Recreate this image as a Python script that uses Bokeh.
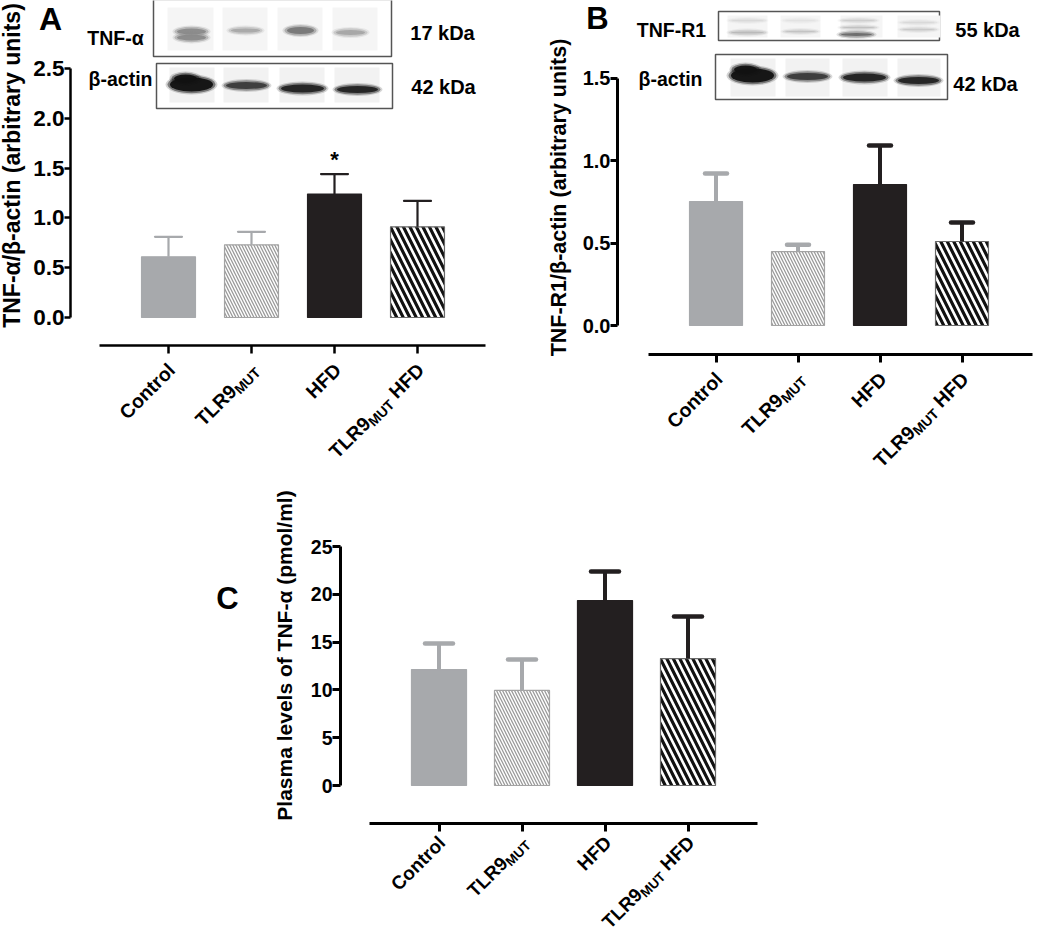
import math
from bokeh.plotting import figure
from bokeh.models import Range1d, LinearAxis, FixedTicker, PrintfTickFormatter, Spacer, ColumnDataSource
from bokeh.layouts import row, column
from bokeh.core.properties import value
from bokeh.embed import file_html
from bokeh.resources import INLINE

FONT = "Liberation Sans"

# ---------------- data ----------------
groups = ["Control", "TLR9MUT", "HFD", "TLR9MUT HFD"]
group_label_parts = [
    [("Control", 0)],
    [("TLR9", 0), ("MUT", 1)],
    [("HFD", 0)],
    [("TLR9", 0), ("MUT", 1), ("HFD", 0)],
]
positions = [1, 2, 3, 4]

tnfa_mean = [0.61, 0.73, 1.24, 0.91]
tnfa_err = [0.20, 0.13, 0.20, 0.26]
tnfa_ticks = [0.0, 0.5, 1.0, 1.5, 2.0, 2.5]

tnfr1_mean = [0.753, 0.449, 0.856, 0.51]
tnfr1_err = [0.17, 0.041, 0.237, 0.115]
tnfr1_ticks = [0.0, 0.5, 1.0, 1.5]

plasma_mean = [12.13, 9.94, 19.35, 13.28]
plasma_err = [2.72, 3.24, 3.03, 4.40]
plasma_ticks = [0, 5, 10, 15, 20, 25]

# ---------------- styles ----------------
GREY = "#a7a9ac"
BLACK = "#231f20"
bar_fill = [GREY, "white", BLACK, "white"]
bar_line = [GREY, "#a3a3a3", BLACK, "#6a6a6a"]
bar_hatch = [" ", "\\", " ", "\\"]
hatch_colors = [GREY, "#9a9a9a", BLACK, "#111111"]
hatch_scales = [10, 6, 10, 13]
hatch_weights = [1, 1.3, 1, 3.2]
err_colors = [GREY, GREY, BLACK, BLACK]

# Arial/Liberation Sans Bold advance widths (em)
W = {"C": .722, "o": .611, "n": .611, "t": .333, "r": .389, "l": .278, "T": .611,
     "L": .611, "R": .722, "9": .556, "M": .833, "U": .722, "H": .722, "F": .611,
     "D": .722, " ": .278}


def tw(s, size):
    return sum(W.get(c, .6) for c in s) * size


class Panel:
    def __init__(self, left, top, width, height, x1, step, y0, scale):
        self.left, self.top, self.width, self.height = left, top, width, height
        self.x1, self.step, self.y0, self.scale = x1, step, y0, scale

    def X(self, px):
        return 1 + (px - self.x1) / self.step

    def Y(self, py):
        return (self.y0 - py) / self.scale


def make_fig(fr):
    p = figure(width=fr.width, height=fr.height,
               x_range=Range1d(fr.X(fr.left), fr.X(fr.left + fr.width)),
               y_range=Range1d(fr.Y(fr.top + fr.height), fr.Y(fr.top)),
               output_backend="svg", toolbar_location=None,
               x_axis_location=None, y_axis_location=None,
               min_border=0, outline_line_color=None)
    p.xgrid.visible = False
    p.ygrid.visible = False
    p.background_fill_color = "white"
    p.border_fill_color = "white"
    return p


def add_axes(p, fr, yaxis_px, ymax, ticks, fmt, tick_font, tick_out, lw, xaxis_py, xa0, xa1):
    yax = LinearAxis(fixed_location=fr.X(yaxis_px), bounds=(0, ymax),
                     ticker=FixedTicker(ticks=ticks), formatter=PrintfTickFormatter(format=fmt))
    yax.axis_line_width = lw
    yax.axis_line_color = "black"
    yax.major_tick_line_width = lw
    yax.major_tick_line_color = "black"
    yax.major_tick_out = tick_out
    yax.major_tick_in = 0
    yax.minor_tick_out = 0
    yax.minor_tick_in = 0
    yax.major_label_standoff = 0
    yax.major_label_text_font = FONT
    yax.major_label_text_font_style = "bold"
    yax.major_label_text_font_size = f"{tick_font}px"
    yax.major_label_text_color = "black"
    p.add_layout(yax, "left")

    xax = LinearAxis(fixed_location=fr.Y(xaxis_py), bounds=(fr.X(xa0), fr.X(xa1)),
                     ticker=FixedTicker(ticks=positions))
    xax.axis_line_width = lw
    xax.axis_line_color = "black"
    xax.major_tick_line_width = lw
    xax.major_tick_line_color = "black"
    xax.major_tick_out = 8
    xax.major_tick_in = 0
    xax.minor_tick_out = 0
    xax.minor_tick_in = 0
    xax.major_label_overrides = {k: "" for k in positions}
    p.add_layout(xax, "below")
    return fr.Y(xaxis_py)


def add_bars(p, means, errs, bw, stem_w, cap_size, cap_w):
    src = ColumnDataSource(dict(x=positions, top=means, fill=bar_fill, line=bar_line,
                                hatch=bar_hatch, hc=hatch_colors, hs=hatch_scales, hw=hatch_weights))
    p.vbar(x="x", top="top", bottom=0, width=bw, fill_color="fill", line_color="line",
           line_width=1.2, hatch_pattern="hatch", hatch_color="hc", hatch_scale="hs",
           hatch_weight="hw", source=src)
    tops = [m + e for m, e in zip(means, errs)]
    p.segment(x0=positions, y0=means, x1=positions, y1=tops, line_color=err_colors,
              line_width=stem_w)
    p.scatter(x=positions, y=tops, marker="dash", size=cap_size, line_color=err_colors,
              line_width=cap_w, line_cap="round")
    return tops


def add_cat_labels(p, xaxis_y, main=19.5, sub=14, drop=5, ax=3, ay=21):
    c = math.cos(math.pi / 4)
    for pos, parts in zip(positions, group_label_parts):
        L = 0.0
        for i, (txt, is_sub) in enumerate(reversed(parts)):
            size = sub if is_sub else main
            d = drop if is_sub else 0
            p.text(x=[pos], y=[xaxis_y], text=[txt], angle=math.pi / 4,
                   x_offset=ax + (-L + d) * c, y_offset=ay + (L + d) * c,
                   text_align="right", text_baseline="middle",
                   text_font=value(FONT), text_font_style="bold",
                   text_font_size=f"{size}px", text_color="black")
            L += tw(txt, size)
            if i == 0 and len(parts) == 3:
                L += tw(" ", main)


def add_text(p, fr, txt, px, py, size, angle=0.0, bold=True, align="center"):
    p.text(x=[fr.X(px)], y=[fr.Y(py)], text=[txt], angle=angle, text_align=align,
           text_baseline="middle", text_font=value(FONT),
           text_font_style="bold" if bold else "normal",
           text_font_size=f"{size}px", text_color="black")


def draw_blot(p, fr, boxes, lanes, bands):
    for (x0, x1, y0, y1) in boxes:
        p.quad(left=fr.X(x0), right=fr.X(x1), top=fr.Y(y0), bottom=fr.Y(y1),
               fill_color="white", line_color="#555555", line_width=1.5)
    for (x0, x1, y0, y1, col) in lanes:
        p.quad(left=fr.X(x0), right=fr.X(x1), top=fr.Y(y0), bottom=fr.Y(y1),
               fill_color=col, line_color=None)
    for (cx, cy, w, h, col) in bands:
        for dw, dh, a in ((6, 4, 0.18), (2, 1.5, 0.45), (-3, -2, 0.95)):
            p.ellipse(x=[fr.X(cx)], y=[fr.Y(cy)], width=max(w + dw, 2), height=max(h + dh, 1.5),
                      width_units="screen", height_units="screen",
                      fill_color=col, fill_alpha=a, line_color=None)


# ---------------- panel A ----------------
A = Panel(8, 8, 530, 474, 176, 83, 325, 99.6)
pA = make_fig(A)
lanes_A = [(x0, x1, 15, 58, "#f5f5f5") for x0, x1 in ((175, 221), (230, 275), (285, 330), (340, 385))] + \
          [(x0, x1, 75, 110, "#f2f2f2") for x0, x1 in ((177, 222), (231, 276), (287, 332), (342, 387))]
bands_A = [(199, 39, 32, 8, "#8a8a8a"), (199, 45, 32, 8, "#8a8a8a"), (253, 38, 32, 6, "#a8a8a8"),
           (308, 38, 30, 9, "#777777"), (358, 40, 32, 7, "#a6a6a6"),
           (199, 92, 46, 16, "#111111"), (193, 86, 26, 10, "#111111"), (254, 93, 44, 9, "#3a3a3a"),
           (310, 96, 46, 10, "#222222"), (365, 97, 44, 9, "#222222")]
draw_blot(pA, A, [(161, 399, 7, 64), (164, 400, 71, 116)], lanes_A, bands_A)
xyA = add_axes(pA, A, 78, 2.5, tnfa_ticks, "%.1f", 22.5, 6, 2.5, 353, 107, 493)
topsA = add_bars(pA, tnfa_mean, tnfa_err, 0.65, 2.2, 27, 2.2)
add_cat_labels(pA, xyA)
pA.text(x=[positions[2]], y=[topsA[2]], text=["*"], y_offset=-15, text_align="center",
        text_baseline="middle", text_font=value(FONT), text_font_style="bold",
        text_font_size="22px", text_color="black")
add_text(pA, A, "TNF-α/β-actin (arbitrary units)", 19, 173, 23, angle=math.pi / 2)
add_text(pA, A, "A", 58, 26, 32)
add_text(pA, A, "TNF-α", 123, 45, 19.5)
add_text(pA, A, "β-actin", 128, 86, 19.5)
add_text(pA, A, "17 kDa", 450, 40, 20)
add_text(pA, A, "42 kDa", 451, 94, 20)

# ---------------- panel B ----------------
B = Panel(538, 8, 504, 474, 723.5, 82, 333, 164.7)
pB = make_fig(B)
lanes_B = [(x0, x1, 23, 45, "#f5f5f5") for x0, x1 in ((735, 775), (788, 828), (848, 890), (905, 948))] + \
          [(x0, x1, 66, 104, "#f2f2f2") for x0, x1 in ((738, 783), (793, 837), (850, 895), (905, 948))]
bands_B = [(755, 28, 36, 3, "#d8d8d8"), (755, 40, 36, 4, "#b8b8b8"),
           (808, 28, 34, 3, "#e2e2e2"), (808, 39, 34, 3, "#c2c2c2"),
           (866, 28, 36, 3, "#cccccc"), (866, 35, 36, 3, "#c0c0c0"), (864, 42, 34, 5, "#6a6a6a"),
           (926, 30, 36, 3, "#d8d8d8"), (926, 37, 36, 3, "#c8c8c8"),
           (760, 83, 46, 16, "#111111"), (753, 77, 26, 10, "#111111"), (815, 84, 44, 9, "#3a3a3a"),
           (872, 85, 46, 10, "#222222"), (926, 88, 44, 9, "#222222")]
draw_blot(pB, B, [(726, 947, 19, 48), (723, 955, 62, 107)], lanes_B, bands_B)
xyB = add_axes(pB, B, 625, 1.5, tnfr1_ticks, "%.1f", 20, 7, 3, 362, 656, 1040)
add_bars(pB, tnfr1_mean, tnfr1_err, 0.646, 4, 22, 4.5)
add_cat_labels(pB, xyB)
add_text(pB, B, "TNF-R1/β-actin (arbitrary units)", 566, 205, 21.5, angle=math.pi / 2)
add_text(pB, B, "B", 605, 26, 31)
add_text(pB, B, "TNF-R1", 679, 37, 19.5)
add_text(pB, B, "β-actin", 678, 86, 19.5)
add_text(pB, B, "55 kDa", 995, 37, 20)
add_text(pB, B, "42 kDa", 993, 91, 20)

# ---------------- panel C ----------------
C = Panel(208, 482, 590, 461, 446.5, 83, 793, 9.56)
pC = make_fig(C)
xyC = add_axes(pC, C, 348, 25, plasma_ticks, "%d", 19.5, 8, 3, 831, 377, 765)
add_bars(pC, plasma_mean, plasma_err, 0.663, 4, 28, 4.5)
add_cat_labels(pC, xyC, main=19, sub=13.5, ay=16)
add_text(pC, C, "Plasma levels of TNF-α (pmol/ml)", 292, 663, 21, angle=math.pi / 2)
add_text(pC, C, "C", 235, 606, 31)

layout = column(row(pA, pB), row(Spacer(width=200, height=461), pC))
open("out.html", "w").write(file_html(layout, INLINE))
